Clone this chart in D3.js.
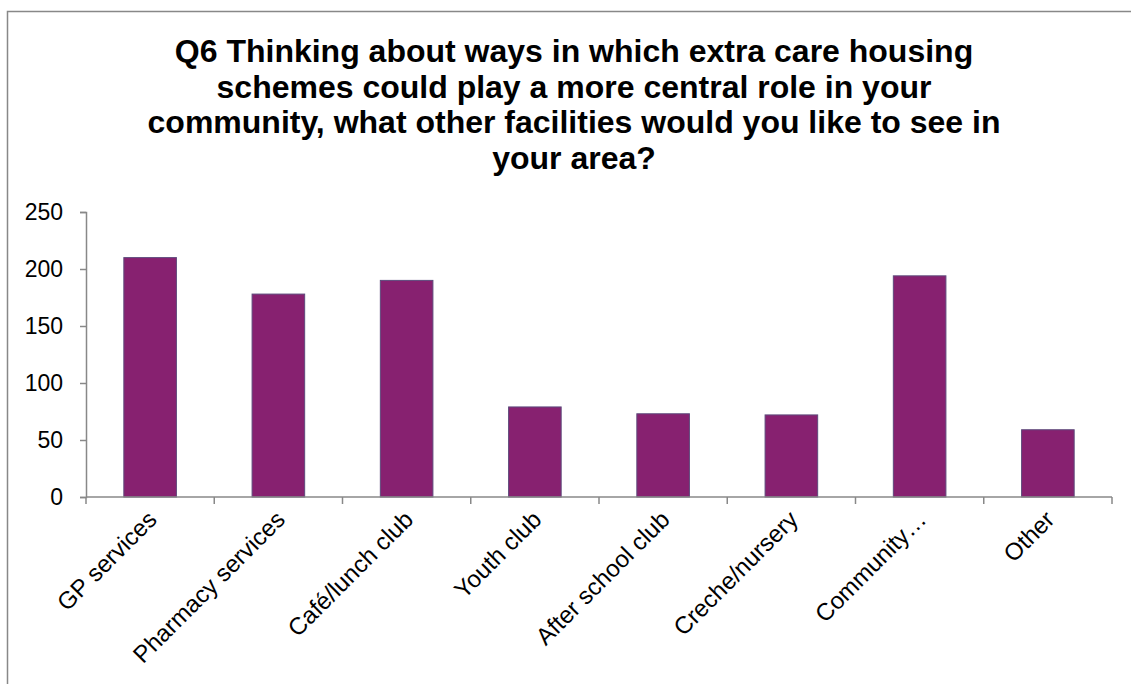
<!DOCTYPE html>
<html>
<head>
<meta charset="utf-8">
<script src="https://cdn.jsdelivr.net/npm/d3@7"></script>
<style>
  html, body { margin: 0; padding: 0; background: #fff; }
  svg { display: block; font-family: "Liberation Sans", Arial, sans-serif; }
</style>
</head>
<body>
<svg id="chart" width="1131" height="684"></svg>
<script>
// Survey responses per facility
const categories = ["GP services", "Pharmacy services", "Café/lunch club", "Youth club",
                    "After school club", "Creche/nursery", "Community…", "Other"];
const responses = [210, 178, 190, 79, 73, 72, 194, 59];
const yTicks = [0, 50, 100, 150, 200, 250];
const titleLines = [
  "Q6 Thinking about ways in which extra care housing",
  "schemes could play a more central role in your",
  "community, what other facilities would you like to see in",
  "your area?"
];

const svg = d3.select("#chart");
const W = 1131, H = 684;

// chart area frame (left and top edges visible)
svg.append("rect")
  .attr("x", 7.5).attr("y", 11.5)
  .attr("width", W + 20).attr("height", H + 20)
  .attr("fill", "#fff").attr("stroke", "#888").attr("stroke-width", 1.5);

// title
const title = svg.append("text")
  .attr("text-anchor", "middle")
  .attr("font-size", 32).attr("font-weight", "bold").attr("fill", "#000");
titleLines.forEach((t, i) => {
  title.append("tspan").attr("x", 574).attr("y", 62 + i * 35.7).text(t);
});

const plot = { left: 86, right: 1112, top: 212, bottom: 497 };

const x = d3.scaleBand()
  .domain(categories)
  .range([plot.left, plot.right])
  .paddingInner(0.59).paddingOuter(0.295);

const y = d3.scaleLinear().domain([0, 250]).range([plot.bottom, plot.top]);

// bars
svg.append("g").selectAll("rect")
  .data(categories)
  .join("rect")
  .attr("x", d => x(d))
  .attr("y", (d, i) => y(responses[i]))
  .attr("width", x.bandwidth())
  .attr("height", (d, i) => y(0) - y(responses[i]))
  .attr("fill", "#872170")
  .attr("stroke", "#5e4a7c").attr("stroke-width", 1);

// y axis
const yAxis = svg.append("g")
  .attr("transform", `translate(${plot.left},0)`)
  .call(d3.axisLeft(y).tickValues(yTicks).tickSize(6).tickPadding(17));
yAxis.select(".domain").attr("stroke", "#888").attr("stroke-width", 1.5);
yAxis.selectAll(".tick line").attr("stroke", "#888").attr("stroke-width", 1.5);
yAxis.selectAll(".tick text").attr("font-size", 23).attr("fill", "#000")
  .attr("font-family", "Liberation Sans, Arial, sans-serif");

// x axis: ticks at category boundaries
const step = x.step();
const boundaries = d3.range(categories.length + 1).map(i => plot.left + i * step);
const xAxisG = svg.append("g");
xAxisG.append("line")
  .attr("x1", plot.left).attr("x2", plot.right)
  .attr("y1", plot.bottom).attr("y2", plot.bottom)
  .attr("stroke", "#888").attr("stroke-width", 1.5);
xAxisG.selectAll("line.tk")
  .data(boundaries)
  .join("line").attr("class", "tk")
  .attr("x1", d => d).attr("x2", d => d)
  .attr("y1", plot.bottom).attr("y2", plot.bottom + 7)
  .attr("stroke", "#888").attr("stroke-width", 1.5);

// rotated category labels
xAxisG.selectAll("text")
  .data(categories)
  .join("text")
  .attr("text-anchor", "end")
  .attr("font-size", 24).attr("fill", "#000")
  .attr("transform", d => {
    const cx = x(d) + x.bandwidth() / 2 - 4;
    return `translate(${cx},${plot.bottom + 12}) rotate(-45)`;
  })
  .attr("dy", "0.71em")
  .text(d => d);
</script>
</body>
</html>
